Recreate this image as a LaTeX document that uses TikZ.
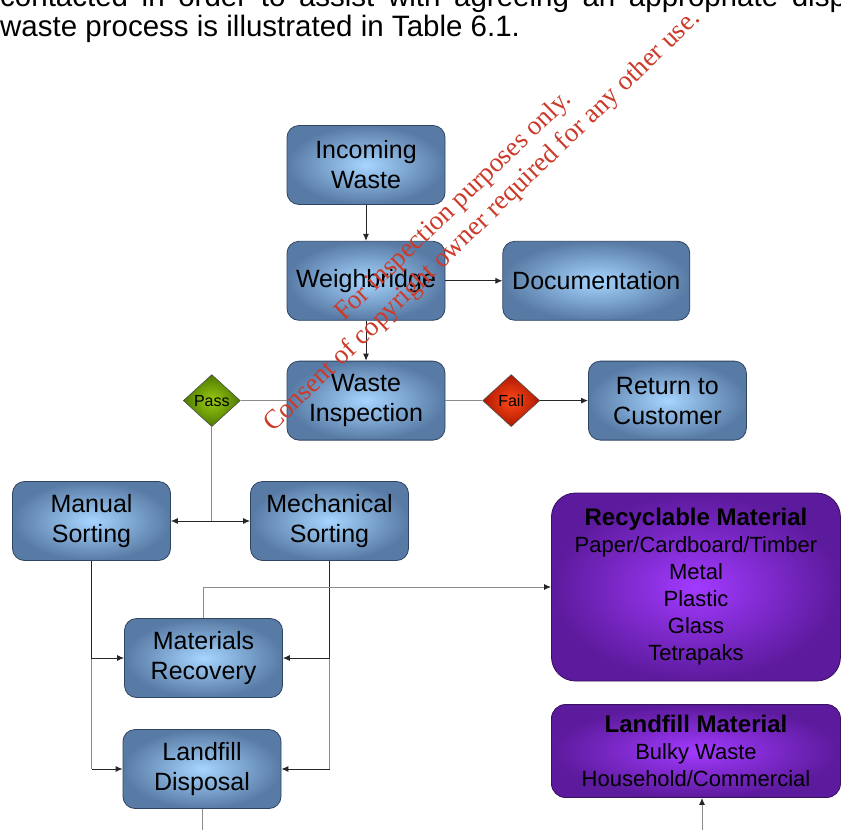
\documentclass[tikz,border=0pt]{standalone}
\usepackage{fontspec}
\setmainfont{Liberation Sans}
\newfontfamily\wmfont{Liberation Serif}
\usetikzlibrary{shapes.geometric,positioning,arrows.meta}
\definecolor{boxblue}{HTML}{587BA5}
\definecolor{boxlight}{HTML}{A6D5FF}
\definecolor{boxedge}{HTML}{2E4563}
\definecolor{purpleout}{HTML}{5C1A9C}
\definecolor{purplein}{HTML}{A23AFF}
\definecolor{passout}{HTML}{4C7A00}
\definecolor{passin}{HTML}{9ACB12}
\definecolor{failout}{HTML}{AE1800}
\definecolor{failin}{HTML}{FF4A1A}
\definecolor{wmred}{HTML}{CC3A2A}
\definecolor{linegray}{HTML}{8C8C8C}

\begin{document}
\begin{tikzpicture}[x=1pt, y=-1pt,
process/.style={rectangle, rounded corners=12pt, draw=boxedge, line width=0.8pt, inner color=boxlight, outer color=boxblue, minimum width=158pt, minimum height=79pt, align=center, font=\fontsize{25}{30}\selectfont},
material/.style={rectangle, rounded corners=#1, draw=purpleout!60!black, line width=0.8pt, inner color=purplein, outer color=purpleout, minimum width=289pt, align=center, font=\fontsize{22}{27}\selectfont},
check/.style={diamond, draw=black!70, line width=0.6pt, minimum width=57pt, minimum height=52pt, inner sep=0pt, font=\fontsize{16}{16}\selectfont},
link/.style={draw=black!85, line width=0.9pt, -{Latex[length=7pt,width=6pt]}},
plain/.style={draw=linegray, line width=1pt},
tip/.style={-{Latex[length=7pt,width=6pt,color=black!85]}},
wm/.style={text=wmred, inner sep=0pt, font=\wmfont\fontsize{27}{27}\selectfont}]

\useasboundingbox[fill=white] (0,0) rectangle (841,830);

% TEXT ABOVE

\node [anchor=base west, inner sep=0pt, font=\fontsize{29.5}{30}\selectfont] (para-a) at (0,6) {\makebox[900pt][s]{contacted in order to assist with agreeing an appropriate disposal}};
\node [anchor=base west, inner sep=0pt, font=\fontsize{29.5}{30}\selectfont] (para-b) at (0,36) {waste process is illustrated in Table 6.1.};

% PROCESSES

\node [process] (incoming) at (366,165) {Incoming\\Waste};

\node [process, below=36pt of incoming] (weighbridge) {Weighbridge};

\node [process, right=57pt of weighbridge, minimum width=187pt] (documentation) {Documentation};

\node [process, below=40pt of weighbridge] (inspection) {Waste\\Inspection};

\node [check, left=46pt of inspection, inner color=passin, outer color=passout] (pass) {Pass};

\node [check, right=37pt of inspection, inner color=failin, outer color=failout] (fail) {Fail};

\node [process, right=48pt of fail] (return) {Return to\\Customer};

\node [process] (manual) at (91.5,521) {Manual\\Sorting};

\node [process] (mechanical) at (329.5,521) {Mechanical\\Sorting};

\node [process] (recovery) at (203.5,658) {Materials\\Recovery};

\node [process] (disposal) at (202,769) {Landfill\\Disposal};

% MATERIALS

\node [material=24pt, minimum height=188pt] (recyclable) at (696,587)
{\textbf{\fontsize{24}{27}\selectfont Recyclable Material}\\
Paper/Cardboard/Timber\\
Metal\\
Plastic\\
Glass\\
Tetrapaks};

\node [material=14pt, minimum height=93pt] (landfill) at (696,751)
{\textbf{\fontsize{24}{27}\selectfont Landfill Material}\\
Bulky Waste\\
Household/Commercial};

% CONNECTORS

\draw [link] (incoming) -- (weighbridge);
\draw [link] (weighbridge) -- (documentation);
\draw [link] (weighbridge) -- (inspection);
\draw [plain] (inspection) -- (pass);
\draw [plain] (inspection) -- (fail);
\draw [link] (fail) -- (return);

\coordinate (split) at (pass.south |- manual.east);
\draw [plain] (pass) -- (split);
\draw [link] (split) -- (manual);
\draw [link] (split) -- (mechanical);

\draw [plain] (manual.south) -- (manual.south |- disposal.west);
\draw [link] (manual.south) |- (recovery.west);
\draw [link] (manual.south |- disposal.west) -- (disposal.west);

\draw [plain] (mechanical.south) -- (mechanical.south |- disposal.east);
\draw [link] (mechanical.south) |- (recovery.east);
\draw [link] (mechanical.south |- disposal.east) -- (disposal.east);

\draw [plain, tip] (recovery.north) |- (recyclable.west);

\coordinate (out-disposal) at (disposal.south |- 0,840);
\draw [plain] (disposal) -- (out-disposal);

\coordinate (in-landfill) at (702,840);
\draw [plain, tip] (in-landfill) -- (in-landfill |- landfill.south);

% WATERMARK

\node [wm, anchor=base west, rotate=44] (wm-a) at (344,322) {For inspection purposes only.};
\node [wm, anchor=base west, rotate=44] (wm-b) at (273,433) {Consent of copyright owner required for any other use.};

\end{tikzpicture}
\end{document}
